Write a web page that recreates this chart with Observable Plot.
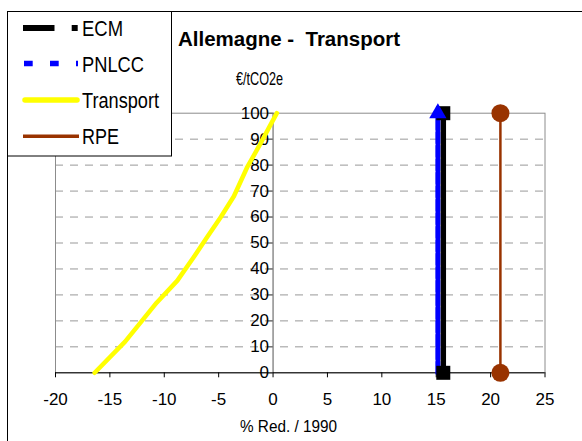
<!DOCTYPE html>
<html><head><meta charset="utf-8">
<script src="https://cdn.jsdelivr.net/npm/d3@7"></script>
<script src="https://cdn.jsdelivr.net/npm/@observablehq/plot@0.6"></script>
<style>
body{margin:0;background:#fff}
#wrap{position:relative;width:582px;height:441px;overflow:hidden;background:#fff}
#wrap svg{position:absolute;left:0;top:0}
</style></head><body><div id="wrap"></div>
<script>
// ---- data ----
const titleText = "Allemagne -  Transport";
const yLabelText = "€/tCO2e";
const xLabelText = "% Red. / 1990";
const xTicks = [-20, -15, -10, -5, 0, 5, 10, 15, 20, 25];
const yTicks = [0, 10, 20, 30, 40, 50, 60, 70, 80, 90, 100];
const seriesNames = ["ECM", "PNLCC", "Transport", "RPE"];
const ecmX = [15.65, 15.65];
const ecmY = [0, 100];
const pnlccX = [15.15, 15.15];
const pnlccY = [0, 100];
const transportX = [-16.4, -13.6, -10.7, -8.8, -7.3, -6.1, -4.8, -3.6, -2.4, -1.2, -0.3, 0.35];
const transportY = [0, 12, 27, 35.5, 44.5, 52, 60, 68, 79, 88, 95, 100];
const rpeX = [20.9, 20.9];
const rpeY = [0, 100];

// ---- build tables ----
const zip = (xs, ys) => xs.map((x, i) => ({x, y: ys[i]}));
const ecm = zip(ecmX, ecmY);
const pnlcc = zip(pnlccX, pnlccY);
const transport = zip(transportX, transportY);
const rpe = zip(rpeX, rpeY);
const gridY = yTicks.filter(d => d > 0 && d < 100);

const W = 582, H = 441;
const mLeft = 55, mRight = 37.5, mTop = 112.7, mBottom = 68.7;
const xDomain = [xTicks[0], xTicks[xTicks.length - 1]];
const x0px = mLeft + (0 - xDomain[0]) / (xDomain[1] - xDomain[0]) * (W - mLeft - mRight);
const FONT = "'Liberation Sans', Arial, sans-serif";
const fmt = d => String(d);

const chart = Plot.plot({
  width: W, height: H,
  marginLeft: mLeft, marginRight: mRight, marginTop: mTop, marginBottom: mBottom,
  style: {fontFamily: FONT, fontSize: "17px", background: "white", color: "black"},
  x: {domain: xDomain},
  y: {domain: [0, 100]},
  marks: [
    Plot.ruleY(gridY, {stroke: "#999", strokeWidth: 1, strokeDasharray: "8,7"}),
    Plot.frame({stroke: "#8c8c8c"}),
    Plot.ruleX([0], {stroke: "#555", y1: 0, y2: 100}),
    Plot.ruleY([0], {stroke: "black"}),
    Plot.axisX(xTicks, {tickSize: 5, tickPadding: 15, fontSize: 17, label: null, tickFormat: fmt, stroke: "black", fill: "black"}),
    Plot.axisY(yTicks, {anchor: "left", tickSize: 5, tickPadding: -1, fontSize: 17, label: null, tickFormat: fmt, dx: x0px - mLeft, stroke: "#555", fill: "black"}),
    Plot.line(transport, {x: "x", y: "y", stroke: "#FFFF00", strokeWidth: 4.5}),
    Plot.line(ecm, {x: "x", y: "y", stroke: "black", strokeWidth: 5.5}),
    Plot.line(pnlcc, {x: "x", y: "y", stroke: "#0000FF", strokeWidth: 5, strokeDasharray: "11,2.5"}),
    Plot.dot(ecm, {x: "x", y: "y", symbol: "square", r: 7.9, fill: "black"}),
    Plot.dot(pnlcc.filter(d => d.y === 100), {x: "x", y: "y", symbol: "triangle", r: 6.4, fill: "#0000FF"}),
    Plot.line(rpe, {x: "x", y: "y", stroke: "#993300", strokeWidth: 2.5}),
    Plot.dot(rpe, {x: "x", y: "y", r: 9, fill: "#993300"})
  ]
});
const wrap = document.getElementById("wrap");
wrap.appendChild(chart);

// ---- overlay: border, title, axis labels, legend ----
const ov = d3.create("svg").attr("width", W).attr("height", H)
  .style("font-family", FONT).style("pointer-events", "none");
ov.append("path").attr("d", "M7.5,441V11.5H582").attr("fill", "none").attr("stroke", "black");
ov.append("text").attr("x", 178).attr("y", 46).attr("font-size", 20).attr("font-weight", "bold")
  .attr("textLength", 222).attr("lengthAdjust", "spacingAndGlyphs").style("white-space", "pre").text(titleText);
ov.append("text").attr("x", 236).attr("y", 85.3).attr("font-size", 18)
  .attr("textLength", 47).attr("lengthAdjust", "spacingAndGlyphs").text(yLabelText);
ov.append("text").attr("x", 240).attr("y", 431.5).attr("font-size", 17)
  .attr("textLength", 97).attr("lengthAdjust", "spacingAndGlyphs").text(xLabelText);

const lg = ov.append("g");
lg.append("rect").attr("x", 7.5).attr("y", 11.5).attr("width", 164).attr("height", 144.5)
  .attr("fill", "white").attr("stroke", "black");
const rowsY = [28, 63.5, 100, 136.3];
const textW = [41, 62, 77, 37];
// ECM sample
lg.append("line").attr("x1", 23).attr("x2", 54.5).attr("y1", rowsY[0]).attr("y2", rowsY[0]).attr("stroke", "black").attr("stroke-width", 6);
lg.append("rect").attr("x", 71.7).attr("y", rowsY[0] - 3).attr("width", 6).attr("height", 6).attr("fill", "black");
// PNLCC sample
lg.append("line").attr("x1", 24).attr("x2", 78).attr("y1", rowsY[1]).attr("y2", rowsY[1]).attr("stroke", "#0000FF").attr("stroke-width", 5.3).attr("stroke-dasharray", "8.7,17.3");
// Transport sample
lg.append("line").attr("x1", 25).attr("x2", 77).attr("y1", rowsY[2]).attr("y2", rowsY[2]).attr("stroke", "#FFFF00").attr("stroke-width", 5.5).attr("stroke-linecap", "round");
// RPE sample
lg.append("line").attr("x1", 23).attr("x2", 79).attr("y1", rowsY[3]).attr("y2", rowsY[3]).attr("stroke", "#993300").attr("stroke-width", 3.5);
seriesNames.forEach((name, i) => {
  lg.append("text").attr("x", 82).attr("y", rowsY[i] + 8).attr("font-size", 22)
    .attr("textLength", textW[i]).attr("lengthAdjust", "spacingAndGlyphs").text(name);
});
wrap.appendChild(ov.node());
</script>
</body></html>
